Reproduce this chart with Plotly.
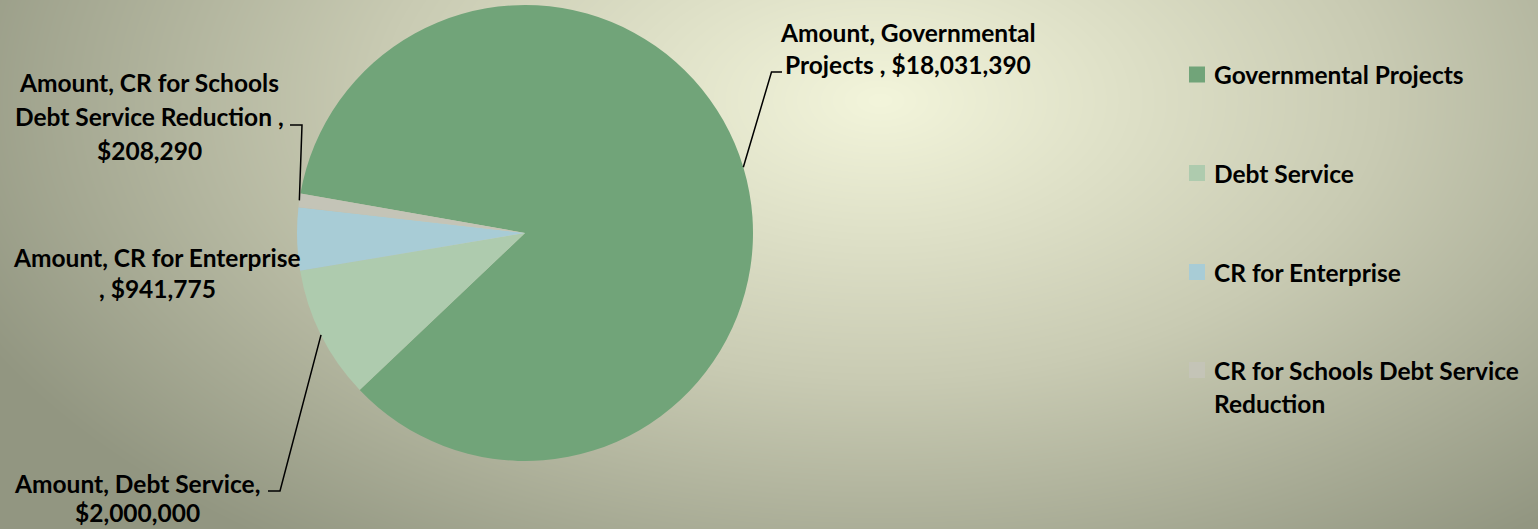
import base64, struct, zlib
import numpy as np
import plotly.graph_objects as go

W, H = 1538, 529

# ---- data ----
categories = ["Governmental Projects", "Debt Service", "CR for Enterprise",
              "CR for Schools Debt Service Reduction"]
amounts = [18031390, 2000000, 941775, 208290]
colors = ["#71a479", "#aecbae", "#a8ccd6", "#c4c4b7"]
label_lines = [
    ["Amount, Governmental", "Projects , $18,031,390"],
    ["Amount, Debt Service,", "$2,000,000"],
    ["Amount, CR for Enterprise", ", $941,775"],
    ["Amount, CR for Schools", "Debt Service Reduction ,", "$208,290"],
]
legend_lines = [["Governmental Projects"], ["Debt Service"], ["CR for Enterprise"],
                ["CR for Schools Debt Service", "Reduction"]]

# ---- background gradient as PNG ----
yy, xx = np.mgrid[0:H, 0:W].astype(float)
d = np.sqrt(((xx - 880) / 1000.0) ** 2 + ((yy - 100) / 560.0) ** 2)
d = np.clip(d, 0, 1)
c0 = np.array([0xf3, 0xf5, 0xdb], float)
c1 = np.array([0xc9, 0xcb, 0xb3], float)
c2 = np.array([0x92, 0x96, 0x81], float)
t = d[..., None]
img = np.where(t < 0.5, c0 + (c1 - c0) * (t / 0.5), c1 + (c2 - c1) * ((t - 0.5) / 0.5))
img = np.clip(img, 0, 255).astype(np.uint8)
raw = b"".join(b"\x00" + img[r].tobytes() for r in range(H))
def chunk(tag, data):
    return struct.pack(">I", len(data)) + tag + data + struct.pack(">I", zlib.crc32(tag + data) & 0xffffffff)
png = b"\x89PNG\r\n\x1a\n" + chunk(b"IHDR", struct.pack(">IIBBBBB", W, H, 8, 2, 0, 0, 0)) \
      + chunk(b"IDAT", zlib.compress(raw, 9)) + chunk(b"IEND", b"")
bg_uri = "data:image/png;base64," + base64.b64encode(png).decode()

# ---- geometry ----
CX, CY, R = 525, 233, 228
ROT = -80  # first slice starts 80deg counter-clockwise from 12 o'clock

def px(x):
    return x / W

def py(y):
    return 1 - y / H

fig = go.Figure()
fig.add_trace(go.Pie(
    labels=categories, values=amounts, sort=False, direction="clockwise",
    rotation=ROT, marker=dict(colors=colors, line=dict(width=0)),
    textinfo="none", hoverinfo="skip", showlegend=False,
    domain=dict(x=[px(CX - R), px(CX + R)], y=[py(CY + R), py(CY - R)]),
))

# mid-angle edge points (computed from data)
total = float(sum(amounts))
edge = []
cum = 0.0
for v in amounts:
    mid = ROT + (cum + v / 2) / total * 360.0  # clockwise from 12 o'clock
    a = np.deg2rad(mid)
    edge.append((CX + R * np.sin(a), CY - R * np.cos(a)))
    cum += v

font = dict(family="Lato", size=24.5, color="black", weight="bold")
annotations = []
label_pos = [  # (center x, first line y, line spacing)
    (908, 32, 32),
    (137, 483, 29),
    (157, 257, 31),
    (149, 83, 33.5),
]
for lines, (cx, y0, dy) in zip(label_lines, label_pos):
    for i, s in enumerate(lines):
        annotations.append(dict(x=px(cx), y=py(y0 + i * dy), xref="paper", yref="paper",
                                text=s, showarrow=False, xanchor="center", yanchor="middle",
                                font=font))

shapes = []
# leader lines
leader_paths = [
    [(782, 72), (771.5, 72)],
    [(268, 491), (280, 491)],
    None,
    [(290, 125), (302, 125)],
]
for i, pts in enumerate(leader_paths):
    if pts is None:
        continue
    ex, ey = edge[i]
    allp = pts + [(ex, ey)]
    path = "M " + " L ".join(f"{px(x)},{py(y)}" for x, y in allp)
    shapes.append(dict(type="path", xref="paper", yref="paper", path=path,
                       line=dict(color="black", width=1.5)))

# legend
leg_y = [74.5, 173, 272, 370]
for lines, col, y0 in zip(legend_lines, colors, leg_y):
    shapes.append(dict(type="rect", xref="paper", yref="paper",
                       x0=px(1189), x1=px(1205), y0=py(y0 + 8), y1=py(y0 - 8),
                       fillcolor=col, line=dict(width=0)))
    for i, s in enumerate(lines):
        annotations.append(dict(x=px(1212), y=py(y0 + i * 33), xref="paper", yref="paper",
                                text=s, showarrow=False, xanchor="left", yanchor="middle",
                                font=font))

fig.update_layout(
    width=W, height=H, margin=dict(l=0, r=0, t=0, b=0),
    paper_bgcolor="#c9cbb3", plot_bgcolor="rgba(0,0,0,0)",
    images=[dict(source=bg_uri, xref="paper", yref="paper", x=0, y=1, sizex=1, sizey=1,
                 sizing="stretch", layer="below", xanchor="left", yanchor="top")],
    annotations=annotations, shapes=shapes,
    xaxis=dict(visible=False), yaxis=dict(visible=False),
)

fig.write_html("out.html")
